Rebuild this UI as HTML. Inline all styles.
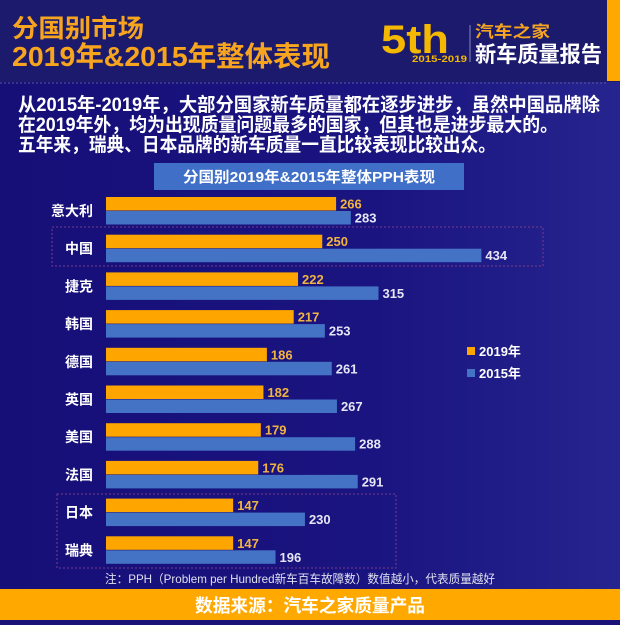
<!DOCTYPE html>
<html><head><meta charset="utf-8"><style>
html,body{margin:0;padding:0;}
body{width:620px;height:620px;overflow:hidden;background:#1a1278;font-family:"Liberation Sans","Noto Sans CJK SC",sans-serif;}
</style></head><body>
<svg width="620" height="620" viewBox="0 0 620 620" xmlns="http://www.w3.org/2000/svg" font-family="Liberation Sans, Noto Sans CJK SC, sans-serif">
<defs>
<linearGradient id="bg" x1="0" y1="0" x2="1" y2="0">
<stop offset="0" stop-color="#170f78"/><stop offset="0.6" stop-color="#1a1480"/><stop offset="1" stop-color="#26248e"/>
</linearGradient>
</defs>
<rect width="620" height="620" fill="url(#bg)"/>
<rect width="620" height="82" fill="#1c1a6c"/>
<rect x="607" y="0" width="13" height="81" fill="#ffa800"/>
<line x1="0" y1="83" x2="607" y2="83" stroke="#5a5a9a" stroke-width="1" stroke-dasharray="2,2"/>
<g font-weight="bold" fill="#f7a51e">
<text x="12" y="37" font-size="25" textLength="132" lengthAdjust="spacingAndGlyphs">分国别市场</text>
<text x="12" y="66" font-size="28" textLength="318" lengthAdjust="spacingAndGlyphs">2019年&amp;2015年整体表现</text>
</g>
<text x="381" y="53" font-size="40" font-weight="bold" fill="#f5b800" textLength="68" lengthAdjust="spacingAndGlyphs">5th</text>
<text x="412" y="62" font-size="9" font-weight="bold" fill="#f5b800" textLength="55" lengthAdjust="spacingAndGlyphs">2015-2019</text>
<line x1="470" y1="25" x2="470" y2="62" stroke="#8888bb" stroke-width="1"/>
<text x="475" y="37" font-size="16" font-weight="bold" fill="#f7a51e" textLength="75" lengthAdjust="spacingAndGlyphs">汽车之家</text>
<text x="475" y="62" font-size="22" font-weight="bold" fill="#ffffff" textLength="127" lengthAdjust="spacingAndGlyphs">新车质量报告</text>
<g font-weight="bold" fill="#ffffff" font-size="19">
<text x="18" y="111" textLength="582" lengthAdjust="spacingAndGlyphs">从2015年-2019年，大部分国家新车质量都在逐步进步，虽然中国品牌除</text>
<text x="18" y="131" textLength="540" lengthAdjust="spacingAndGlyphs">在2019年外，均为出现质量问题最多的国家，但其也是进步最大的。</text>
<text x="18" y="151" textLength="478" lengthAdjust="spacingAndGlyphs">五年来，瑞典、日本品牌的新车质量一直比较表现比较出众。</text>
</g>
<rect x="154" y="163" width="310" height="27" fill="#3f6fc6"/>
<text x="309" y="182" font-size="15" font-weight="bold" fill="#fff" text-anchor="middle" textLength="252" lengthAdjust="spacingAndGlyphs">分国别2019年&amp;2015年整体PPH表现</text>
<rect x="52" y="227" width="491" height="39" fill="none" stroke="#7a3a8a" stroke-width="1" stroke-dasharray="2,2"/>
<rect x="57" y="494" width="339" height="74" fill="none" stroke="#7a3a8a" stroke-width="1" stroke-dasharray="2,2"/>
<g id="bars" font-weight="bold" font-size="13"></g>
<script>
var d=[["意大利",266,283],["中国",250,434],["捷克",222,315],["韩国",217,253],["德国",186,261],["英国",182,267],["美国",179,288],["法国",176,291],["日本",147,230],["瑞典",147,196]];
var g=document.getElementById('bars'),ns="http://www.w3.org/2000/svg",s=0.865,x0=106;
function el(t,a,txt){var e=document.createElementNS(ns,t);for(var k in a)e.setAttribute(k,a[k]);if(txt!=null)e.textContent=txt;g.appendChild(e);}
d.forEach(function(r,i){var y=197+37.7*i;
el('rect',{x:x0,y:y,width:r[1]*s,height:13.5,fill:'#ffa500'});
el('rect',{x:x0,y:y+14,width:r[2]*s,height:13.5,fill:'#4472c4'});
el('text',{x:x0+r[1]*s+4,y:y+11.5,fill:'#f2b440'},r[1]);
el('text',{x:x0+r[2]*s+4,y:y+25.5,fill:'#e6e6f5'},r[2]);
el('text',{x:93,y:y+19,fill:'#fff','text-anchor':'end','font-size':'14'},r[0]);
});
</script>
<rect x="467" y="347" width="8" height="8" fill="#ffa500"/>
<text x="479" y="356" font-size="13" font-weight="bold" fill="#fff">2019年</text>
<rect x="467" y="369" width="8" height="8" fill="#4472c4"/>
<text x="479" y="378" font-size="13" font-weight="bold" fill="#fff">2015年</text>
<text x="105" y="583" font-size="12" fill="#e0e0f0" textLength="390" lengthAdjust="spacingAndGlyphs">注：PPH（Problem per Hundred新车百车故障数）数值越小，代表质量越好</text>
<rect x="0" y="589" width="620" height="31" fill="#ffa800"/>
<text x="310" y="612" font-size="18" font-weight="bold" fill="#fff" text-anchor="middle" textLength="230" lengthAdjust="spacingAndGlyphs">数据来源：汽车之家质量产品</text>
</svg>
</body></html>
